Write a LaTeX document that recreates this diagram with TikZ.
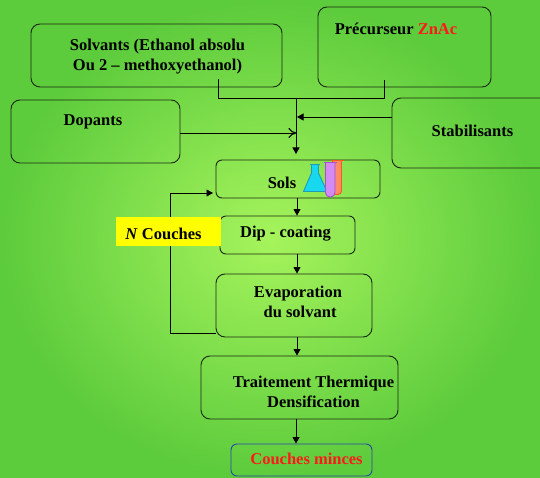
\documentclass[tikz,border=0pt]{standalone}
\usepackage{fontspec}
\setmainfont{Liberation Serif}
\usetikzlibrary{arrows.meta,calc}
\definecolor{bgin}{HTML}{A6F45C}
\definecolor{bgout}{HTML}{5CCB3C}
\definecolor{edge}{HTML}{1C2A12}
\definecolor{zred}{HTML}{FF1A1A}
\definecolor{zblue}{HTML}{2A48A8}
\definecolor{nyellow}{HTML}{FFFF00}
\definecolor{flaskfill}{HTML}{18D8F0}
\definecolor{flaskedge}{HTML}{1E9CB4}
\definecolor{tubeAfill}{HTML}{D48AF2}
\definecolor{tubeAedge}{HTML}{A452D2}
\definecolor{tubeBfill}{HTML}{FF8C64}
\definecolor{tubeBedge}{HTML}{FF5A1E}
\begin{document}
\begin{tikzpicture}[x=1pt,y=-1pt,
  box/.style={draw=edge,line width=0.9pt,rounded corners=9pt,inner sep=0pt},
  lbl/.style={font=\fontsize{16.5}{20}\selectfont\bfseries,align=center,inner sep=0pt,text=black},
  conn/.style={draw=black,line width=0.8pt},
  arr/.style={conn,-{Triangle[length=6.5pt,width=7pt]}},
  openarr/.style={conn,-{To[length=8pt,width=10pt,line width=1.1pt]}}]
% background
\useasboundingbox (0,0) rectangle (540,478);
\shade[inner color=bgin,outer color=bgout] (0,0) rectangle (540,478);

% boxes
\node[box,minimum width=251pt,minimum height=63pt] (solv) at (156.5,55.5) {};
\node[box,minimum width=173pt,minimum height=80pt] (prec) at (404.5,47) {};
\node[box,minimum width=169pt,minimum height=63pt] (dop) at (95.5,131.5) {};
\node[box,minimum width=168pt,minimum height=70pt] (stab) at (476,133) {};
\node[box,rounded corners=6pt,minimum width=164pt,minimum height=38pt] (sols) at (298,179) {};
\node[box,rounded corners=6pt,minimum width=135pt,minimum height=38pt] (dip) at (287.5,235) {};
\node[box,minimum width=156pt,minimum height=63pt] (evap) at (294,305.5) {};
\node[box,minimum width=197pt,minimum height=63pt] (trait) at (299.5,387.5) {};
\node[box,draw=zblue,rounded corners=6pt,minimum width=141pt,minimum height=32pt] (film) at (301.5,460) {};

% labels
\node[lbl] (solvT) at (157.5,57) {Solvants (Ethanol absolu\\Ou 2 -- methoxyethanol)};
\node[lbl] (precT) at (396,29) {Précurseur \textcolor{zred}{ZnAc}};
\node[lbl] (dopT) at (93,122) {Dopants};
\node[lbl] (stabT) at (472.5,131) {Stabilisants};
\node[lbl] (solsT) at (282,183) {Sols};
\node[lbl] (dipT) at (285.5,234) {Dip - coating};
\node[lbl] (evapT) at (298,302) {Evaporation\\\ du solvant};
\node[lbl] (traitT) at (313.5,391.5) {Traitement Thermique\\Densification};
\node[lbl,text=zred] (filmT) at (306.5,459) {Couches minces};

% merging lines from the solvent and precursor boxes
\coordinate (sA) at (218,79);
\coordinate (pA) at (384,80);
\coordinate (jL) at (218,98);
\coordinate (jR) at (384,98);
\coordinate (jM) at (296,98);
\coordinate (jEnd) at (296,154);
\draw[conn] (sA) -- (jL) -- (jR) -- (pA);
\draw[arr] (jM) -- (jEnd);
\coordinate (stabIn) at (297,117);
\draw[arr] (stab.west |- stabIn) -- (stabIn);
\coordinate (dopIn) at (296.5,133);
\draw[openarr] (dop.east |- dopIn) -- (dopIn);

% process chain
\coordinate (cx) at (297,0);
\draw[arr] (sols.south -| cx) -- (dip.north -| cx);
\draw[arr] (dip.south -| cx) -- (evap.north -| cx);
\draw[arr] (evap.south -| cx) -- (trait.north -| cx);
\coordinate (cx2) at (296,0);
\draw[arr] (trait.south -| cx2) -- (film.north -| cx2);

% repetition loop
\coordinate (loopB) at (170,333);
\coordinate (loopT) at (170,193);
\coordinate (loopEnd) at (213,193);
\draw[arr] (evap.west |- loopB) -- (loopB) -- (loopT) -- (loopEnd);

% N layers tag
\node[fill=nyellow,inner sep=0pt,minimum width=105pt,minimum height=29pt] (ntag) at (168.5,231.5) {};
\node[lbl] (ntagT) at (163.5,234) {\textit{N} Couches};

% glassware icon: orange tube, conical flask, violet tube
\draw[line width=0.9pt,draw=tubeBedge,fill=tubeBfill,rounded corners=3.5pt]
  (332.5,161) -- (332.5,194.5) -- (341.5,194.5) -- (341.5,161);
\draw[line width=1.2pt,draw=tubeBedge] (330.5,160.5) -- (343.5,160.5);
\draw[line width=0.9pt,draw=flaskedge,fill=flaskfill,line join=round]
  (311.5,164.5) -- (311.5,173) -- (303.5,191.5) -- (327,191.5) -- (318.5,173) -- (318.5,164.5) -- cycle;
\draw[line width=1.2pt,draw=flaskedge] (310,164.5) -- (320,164.5);
\draw[line width=0.9pt,draw=tubeAedge,fill=tubeAfill,rounded corners=4.5pt]
  (325.5,163) -- (325.5,197) -- (335,197) -- (335,163);
\draw[line width=1.2pt,draw=tubeAedge] (324,162.5) -- (336.5,162.5);
\end{tikzpicture}
\end{document}
